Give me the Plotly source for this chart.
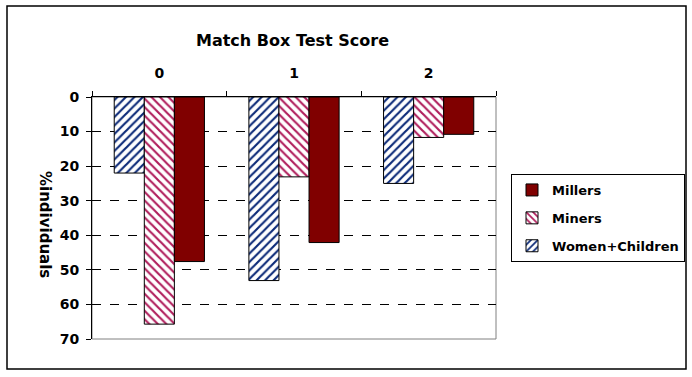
import plotly.graph_objects as go

categories = ["0", "1", "2"]
women_children = [22.0, 53.1, 25.0]
miners = [65.7, 23.1, 11.7]
millers = [47.6, 42.1, 10.8]
y_ticks = [0, 10, 20, 30, 40, 50, 60, 70]

FONT = "DejaVu Sans, Arial, sans-serif"

fig = go.Figure()
fig.add_trace(go.Bar(
    x=categories, y=women_children, name="Women+Children",
    legendgroup="a", legendrank=3,
    marker=dict(color="white", line=dict(color="black", width=1),
                pattern=dict(shape="/", fgcolor="#0c2a78", bgcolor="white",
                             fgopacity=1, size=6, solidity=0.36,
                             fillmode="replace")),
))
fig.add_trace(go.Bar(
    x=categories, y=miners, name="Miners",
    legendgroup="b", legendrank=2,
    marker=dict(color="white", line=dict(color="black", width=1),
                pattern=dict(shape="\\", fgcolor="#b01e5c", bgcolor="white",
                             fgopacity=1, size=6, solidity=0.36,
                             fillmode="replace")),
))
fig.add_trace(go.Bar(
    x=categories, y=millers, name="Millers",
    legendgroup="c", legendrank=1,
    marker=dict(color="#800000", line=dict(color="black", width=1)),
))

L, R, T, B = 92, 196, 97, 38
W = 692 - L - R
H = 377 - T - B

def px(x):
    return (x - L) / W

def py(y):
    return (377 - B - y) / H

fig.update_layout(
    width=692, height=377,
    margin=dict(l=L, r=R, t=T, b=B, pad=0, autoexpand=False),
    paper_bgcolor="white", plot_bgcolor="white",
    barmode="group", bargap=0.33, bargroupgap=0,
    font=dict(family=FONT, size=13, color="black", weight="bold"),
    showlegend=True,
    legend=dict(
        x=px(511), y=py(174), xanchor="left", yanchor="top",
        traceorder="grouped", tracegroupgap=8,
        bordercolor="black", borderwidth=1, bgcolor="white",
        font=dict(family=FONT, size=13, color="black", weight="bold"),
    ),
    xaxis=dict(
        side="top", type="category",
        showline=True, linecolor="black", linewidth=1,
        ticks="outside", ticklen=5, tickcolor="black", tickson="boundaries",
        ticklabelstandoff=12,
        tickfont=dict(family=FONT, size=14, color="black", weight="bold"),
        showgrid=False, zeroline=False,
    ),
    yaxis=dict(
        range=[70, 0], tickvals=y_ticks,
        showline=True, linecolor="black", linewidth=1,
        ticks="outside", ticklen=5, tickcolor="black",
        ticklabelstandoff=4,
        tickfont=dict(family=FONT, size=14, color="black", weight="bold"),
        showgrid=True, gridcolor="black", gridwidth=1, griddash="dash",
        zeroline=False,
    ),
    shapes=[
        dict(type="rect", xref="paper", yref="paper",
             x0=px(7), x1=px(686), y0=py(369), y1=py(6),
             line=dict(color="black", width=1.5), layer="below"),
        dict(type="rect", xref="paper", yref="paper",
             x0=0, x1=1, y0=0, y1=1,
             line=dict(color="#808080", width=1), layer="below"),
    ],
    annotations=[
        dict(text="Match Box Test Score", xref="paper", yref="paper",
             x=px(292), y=py(40), showarrow=False,
             xanchor="center", yanchor="middle",
             font=dict(family=FONT, size=16, color="black", weight="bold")),
        dict(text="%individuals", xref="paper", yref="paper",
             x=px(45), y=py(224), showarrow=False, textangle=90,
             xanchor="center", yanchor="middle",
             font=dict(family=FONT, size=15, color="black", weight="bold")),
    ],
)

fig.write_html("out.html")
